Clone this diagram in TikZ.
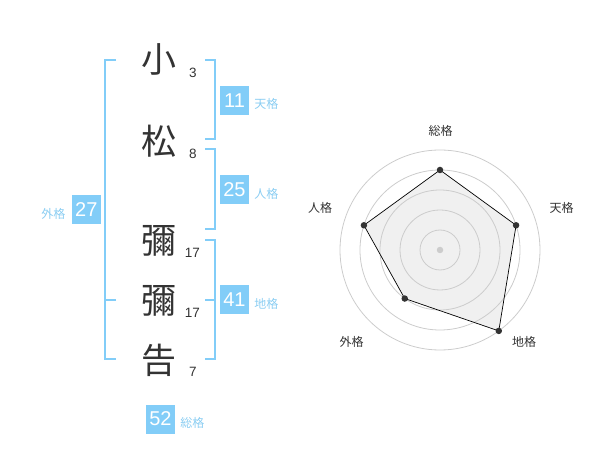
\documentclass[tikz,border=0pt]{standalone}
\usepackage{fontspec}
\setmainfont{Liberation Sans}
\newfontfamily\jp{Noto Sans CJK JP}
\definecolor{bluebox}{HTML}{82CDF8}
\definecolor{bluetxt}{HTML}{8ACDF2}
\definecolor{ink}{HTML}{333333}
\definecolor{ring}{HTML}{CCCCCC}
\definecolor{area}{HTML}{F0F0F0}
\begin{document}
\begin{tikzpicture}[x=1pt,y=-1pt,
  kanji/.style={inner sep=0pt,text=ink,font=\jp\fontsize{35}{35}\selectfont},
  strokes/.style={inner sep=0pt,text=ink,font=\fontsize{13.5}{13.5}\selectfont},
  numbox/.style={fill=bluebox,text=white,minimum size=29pt,inner sep=0pt,font=\fontsize{20}{20}\selectfont},
  kaku/.style={inner sep=0pt,text=bluetxt,font=\jp\fontsize{12}{12}\selectfont},
  brk/.style={draw=bluebox,line width=2pt},
  axlabel/.style={inner sep=0pt,text=ink,font=\jp\fontsize{12}{12}\selectfont},
  dot/.style={circle,fill=ink,inner sep=0pt,minimum size=6.5pt}]
\useasboundingbox (0,0) rectangle (600,470);
% characters
\node[kanji] (c1) at (159,59) {小};
\node[kanji] (c2) at (159,141) {松};
\node[kanji] (c3) at (159,241) {彌};
\node[kanji] (c4) at (159,301) {彌};
\node[kanji] (c5) at (159,360) {告};
\node[strokes] (s1) at (193,72.5) {3};
\node[strokes] (s2) at (193,154) {8};
\node[strokes] (s3) at (192.5,253) {17};
\node[strokes] (s4) at (192.5,313) {17};
\node[strokes] (s5) at (193,372) {7};
% brackets
\coordinate (L1) at (116,60); \coordinate (L2) at (116,359); \coordinate (Lm) at (116,300);
\draw[brk] (L1) -- (105,60) -- (105,359) -- (L2);
\draw[brk] (Lm) -- (105,300);
\draw[brk] (205,60) -- (215,60) -- (215,139) -- (205,139);
\draw[brk] (205,149) -- (215,149) -- (215,229) -- (205,229);
\draw[brk] (205,240) -- (215,240) -- (215,359) -- (205,359);
\draw[brk] (205,300) -- (215,300);
% boxes
\node[numbox] (ten) at (234.5,100.5) {11};
\node[kaku,anchor=west] (tenl) at ([xshift=5pt,yshift=-3.5pt]ten.east) {天格};
\node[numbox] (jin) at (234.5,190) {25};
\node[kaku,anchor=west] (jinl) at ([xshift=5pt,yshift=-3.5pt]jin.east) {人格};
\node[numbox] (chi) at (234.5,300) {41};
\node[kaku,anchor=west] (chil) at ([xshift=5pt,yshift=-3.5pt]chi.east) {地格};
\node[numbox] (gai) at (86.3,210) {27};
\node[kaku,anchor=east] (gail) at ([xshift=-6pt,yshift=-3.5pt]gai.west) {外格};
\node[numbox] (sou) at (160.5,419) {52};
\node[kaku,anchor=west] (soul) at ([xshift=5pt,yshift=-3.5pt]sou.east) {総格};
% radar
\begin{scope}[shift={(440,250)},y=1pt]
  \coordinate (pS) at (90:80);
  \coordinate (pT) at (18:80);
  \coordinate (pC) at (-54:100);
  \coordinate (pG) at (-126:60);
  \coordinate (pJ) at (162:80);
  \fill[area] (pS) -- (pT) -- (pC) -- (pG) -- (pJ) -- cycle;
  \foreach \r in {20,40,60,80,100}
    \draw[ring,line width=0.8pt] (0,0) circle[radius=\r pt];
  \draw[black,line width=0.7pt] (pS) -- (pT) -- (pC) -- (pG) -- (pJ) -- cycle;
  \node[circle,fill=ring,inner sep=0pt,minimum size=6.5pt] (ctr) at (0,0) {};
  \foreach \p in {pS,pT,pC,pG,pJ} \node[dot] at (\p) {};
\end{scope}
\node[axlabel] (aS) at (440.7,130.7) {総格};
\node[axlabel] (aT) at (561.7,208.3) {天格};
\node[axlabel] (aC) at (524,342.3) {地格};
\node[axlabel] (aG) at (351.7,342.3) {外格};
\node[axlabel] (aJ) at (320,208.3) {人格};
\end{tikzpicture}
\end{document}
